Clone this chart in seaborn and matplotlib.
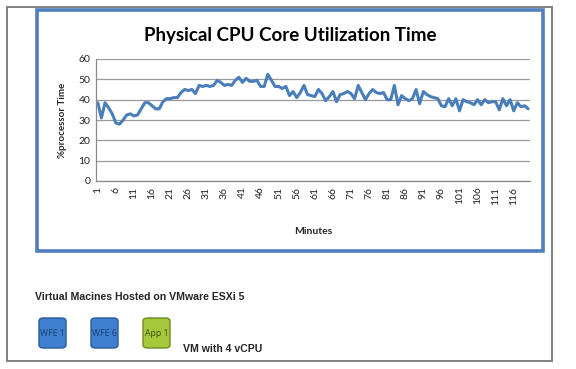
import numpy as np
import pandas as pd
import seaborn as sns
import matplotlib.pyplot as plt
from matplotlib.patches import Rectangle, FancyBboxPatch

minutes = list(range(1, 121))
cpu_pct = [38.5, 31, 38.5, 36, 33, 28.5, 28, 30, 32.5, 33,
           32, 32.5, 35.5, 38.5, 38.5, 37, 35.5, 35.5, 39, 40.5,
           40.5, 41, 41, 43.5, 45, 44.5, 45, 43, 47, 46.5,
           47, 46.5, 47, 49.5, 48.5, 47, 47.5, 47, 49.5, 51,
           48.5, 50.5, 49, 49, 49.5, 46.5, 46.5, 52.5, 49.5, 46.5,
           46.5, 45.5, 46.5, 42, 44, 41, 43.5, 47, 42.5, 42,
           41.5, 45, 43, 39.5, 41.5, 44, 39, 42.5, 43, 44,
           43, 40.5, 47, 43.5, 40, 43, 45, 43.5, 43, 43.5,
           40, 40, 47, 37.5, 42, 40.5, 39.5, 40.5, 45, 38,
           44, 42.5, 41.5, 41, 40.5, 37, 36.5, 40.5, 37, 40.5,
           34.5, 40, 39, 38.5, 37.5, 40, 37.5, 40, 38.5, 39,
           39, 35, 40.5, 37, 40, 34.5, 38.5, 36.5, 37, 35.5]
tick_minutes = list(range(1, 117, 5))
y_ticks = [0, 10, 20, 30, 40, 50, 60]

vm_names = ['WFE 1', 'WFE 6', 'App 1']
vm_fill = ['#3f7fd0', '#3f7fd0', '#a4c73c']
vm_edge = ['#2a5a9a', '#2a5a9a', '#6f8c22']
vm_text = ['#1f3f78', '#1f3f78', '#3d5010']

df = pd.DataFrame({'Minutes': minutes, 'cpu': cpu_pct})

sns.set_style('white')
plt.rcParams['font.family'] = ['Lato', 'DejaVu Sans']

W, H = 576, 369
fig = plt.figure(figsize=(W / 100, H / 100), dpi=100)
fig.patch.set_facecolor('white')

def fx(px):
    return px / W

def fy(py):
    return 1 - py / H

# outer frame and blue chart frame
fig.add_artist(Rectangle((fx(7), fy(361)), fx(552) - fx(7), fy(7) - fy(361),
                         transform=fig.transFigure, fill=False,
                         edgecolor='#7f7f7f', lw=1.4))
fig.add_artist(Rectangle((fx(37), fy(251)), fx(543) - fx(37), fy(10) - fy(251),
                         transform=fig.transFigure, fill=False,
                         edgecolor='#4f7fbd', lw=2.6))

fig.text(fx(290), fy(35), 'Physical CPU Core Utilization Time', ha='center',
         va='center', fontsize=13.5, fontweight='bold', color='black')

ax = fig.add_axes([fx(96), fy(181), fx(530) - fx(96), fy(59) - fy(181)])
sns.lineplot(data=df, x='Minutes', y='cpu', ax=ax, color='#4a7ebb', lw=2.2)
ax.set_xlim(0.5, 120.5)
ax.set_ylim(0, 60)
ax.set_yticks(y_ticks)
ax.set_xticks(tick_minutes)
ax.set_xticklabels([str(m) for m in tick_minutes], rotation=90)
ax.tick_params(axis='both', length=0, labelsize=7.5, colors='#222222', pad=4)
ax.yaxis.grid(True, color='#9a9a9a', lw=0.9)
ax.set_axisbelow(True)
for s in ['top', 'right']:
    ax.spines[s].set_visible(False)
for s in ['left', 'bottom']:
    ax.spines[s].set_color('#8a8a8a')
    ax.spines[s].set_linewidth(0.9)
ax.set_xlabel('Minutes', fontsize=7.5, fontweight='bold', labelpad=16)
ax.set_ylabel('%processor Time', fontsize=7, fontweight='bold', labelpad=8)

# VM legend area
fig.text(fx(35), fy(297), 'Virtual Macines Hosted on VMware ESXi 5',
         family=['Liberation Sans', 'DejaVu Sans'], fontsize=7.6,
         fontweight='bold', va='center', ha='left')
box_x = [39, 91, 143]
for bx, name, fc, ec, tc in zip(box_x, vm_names, vm_fill, vm_edge, vm_text):
    fig.add_artist(FancyBboxPatch((fx(bx), fy(348)), fx(bx + 27) - fx(bx),
                                  fy(318) - fy(348), transform=fig.transFigure,
                                  boxstyle='round,pad=0,rounding_size=0.008',
                                  facecolor=fc, edgecolor=ec, lw=1.0))
    fig.text(fx(bx + 13.5), fy(333), name, ha='center', va='center',
             fontsize=6.3, color=tc, family=['Open Sans', 'DejaVu Sans'])
fig.text(fx(183), fy(349), 'VM with 4 vCPU', family=['Liberation Sans', 'DejaVu Sans'],
         fontsize=7.6, fontweight='bold', va='center', ha='left')

fig.savefig('out.png', dpi=100)
